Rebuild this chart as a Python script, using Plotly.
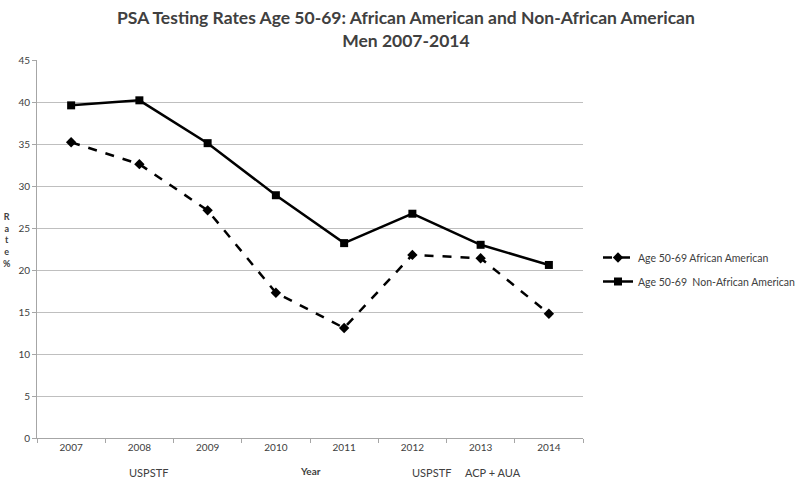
import plotly.graph_objects as go

years = ["2007", "2008", "2009", "2010", "2011", "2012", "2013", "2014"]
african_american = [35.2, 32.6, 27.1, 17.3, 13.1, 21.8, 21.4, 14.8]
non_african_american = [39.6, 40.2, 35.1, 28.9, 23.2, 26.7, 23.0, 20.6]
events = [("2008", "USPSTF", 9), ("2012", "USPSTF", 19), ("2013", "ACP + AUA", 12)]

L, R, T, B = 37, 217, 60, 42
PW, PH = 800 - L - R, 480 - T - B


def px_x(x):
    return (x - L) / PW


def px_y(y):
    return (480 - B - y) / PH


fig = go.Figure()
fig.add_trace(go.Scatter(
    x=years, y=african_american, mode="lines+markers",
    name="Age 50-69 African American", legendgroup="aa",
    line=dict(color="black", width=2.5, dash="dash"),
    marker=dict(symbol="diamond", size=8, color="black"),
))
fig.add_trace(go.Scatter(
    x=years, y=non_african_american, mode="lines+markers",
    name="Age 50-69  Non-African American", legendgroup="naa",
    line=dict(color="black", width=2.5),
    marker=dict(symbol="square", size=8, color="black"),
))

font_family = "Lato, Open Sans, sans-serif"
fig.update_layout(
    width=800, height=480,
    margin=dict(l=L, r=R, t=T, b=B, autoexpand=False),
    paper_bgcolor="white", plot_bgcolor="white",
    font=dict(family=font_family, color="#404040", size=10),
    legend=dict(
        x=px_x(598), y=px_y(243), xanchor="left", yanchor="top",
        font=dict(size=10.5, color="#404040"),
        bgcolor="rgba(0,0,0,0)", tracegroupgap=5,
    ),
    showlegend=True,
)
fig.update_xaxes(
    type="category", range=[-0.5, 7.5],
    showline=True, linecolor="#a6a6a6", linewidth=1,
    ticks="outside", tickson="boundaries", ticklen=4, tickcolor="#a6a6a6",
    showgrid=False, tickfont=dict(size=10, color="#404040"),
)
fig.update_yaxes(
    range=[0, 45], dtick=5,
    showline=True, linecolor="#a6a6a6", linewidth=1,
    ticks="outside", ticklen=4, tickcolor="#a6a6a6",
    showgrid=True, gridcolor="#bfbfbf", gridwidth=1,
    zeroline=False, tickfont=dict(size=10, color="#404040"),
)

# title
fig.add_annotation(x=px_x(406), y=px_y(29), xref="paper", yref="paper",
                   xanchor="center", yanchor="middle", showarrow=False,
                   text="<b>PSA Testing Rates Age 50-69: African American and Non-African American<br>Men 2007-2014</b>",
                   font=dict(size=17.5, color="#404040", family=font_family))

for yr, label, shift in events:
    fig.add_annotation(x=years.index(yr), y=px_y(472), xref="x", yref="paper", xshift=shift,
                       text=label, showarrow=False, font=dict(size=11, color="#404040"),
                       yanchor="middle")
fig.add_annotation(x=px_x(310), y=px_y(471), xref="paper", yref="paper", xanchor="center",
                   yanchor="middle", text="<b>Year</b>", showarrow=False,
                   font=dict(size=10, color="#404040"))
fig.add_annotation(x=px_x(7), y=px_y(240), xref="paper", yref="paper",
                   xanchor="center", yanchor="middle",
                   text="<b>R<br>a<br>t<br>e<br>%</b>", showarrow=False,
                   font=dict(size=9, color="#404040"))

fig.write_html("out.html", config={"displayModeBar": False},
               post_script="document.body.style.margin='0';")
